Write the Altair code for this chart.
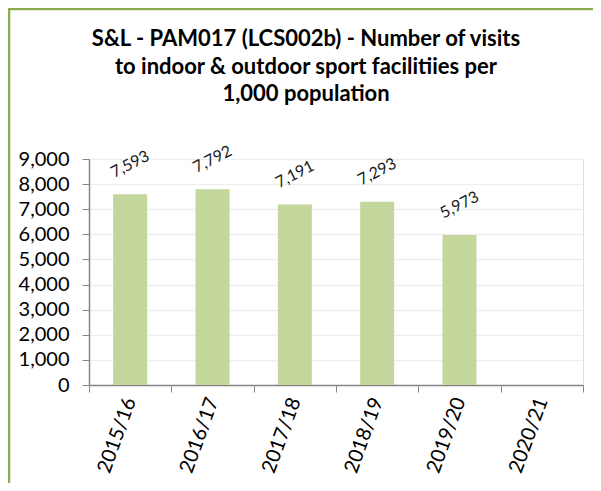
import altair as alt
import pandas as pd

years = ["2015/16", "2016/17", "2017/18", "2018/19", "2019/20", "2020/21"]
visits = [7593, 7792, 7191, 7293, 5973, None]
y_ticks = [0, 1000, 2000, 3000, 4000, 5000, 6000, 7000, 8000, 9000]
title_lines = [
    "S&L - PAM017 (LCS002b) - Number of visits",
    "to indoor & outdoor sport facilitiies per",
    "1,000 population",
]

df = pd.DataFrame({"year": years, "visits": visits})

FONT = "Lato"
W, H = 494, 226
PAD_L, PAD_T, PAD_R, PAD_B = 81, 151, 10, 98

x_enc = alt.X(
    "year:N",
    sort=years,
    scale=alt.Scale(domain=years, paddingInner=0, paddingOuter=0),
    axis=alt.Axis(
        title=None,
        labelAngle=-70,
        labelFontSize=20,
        labelColor="#000000",
        labelFont=FONT,
        tickBand="extent",
        tickSize=7,
        tickColor="#868686",
        domainColor="#868686",
        domainWidth=1.5,
        grid=False,
        labelPadding=6,
    ),
)

y_enc = alt.Y(
    "visits:Q",
    scale=alt.Scale(domain=[0, 9000], nice=False, zero=True),
    axis=alt.Axis(
        title=None,
        values=y_ticks,
        format=",d",
        labelFontSize=20,
        labelFont=FONT,
        labelColor="#000000",
        tickSize=7,
        tickColor="#868686",
        domainColor="#868686",
        domainWidth=1.5,
        grid=True,
        gridColor="#eeeeee",
        gridWidth=1.5,
        labelPadding=13,
    ),
)

base = alt.Chart(df).encode(x=x_enc, y=y_enc)

bars = base.mark_bar(width=34, color="#C3D69B")

labels = (
    base.transform_filter("datum.visits != null")
    .mark_text(angle=333, fontSize=16, font=FONT, color="#1a1a1a", yOffset=-30, align="center", baseline="middle")
    .encode(text=alt.Text("visits:Q", format=","))
)

one_row = alt.Data(values=[{"k": 1}])
title_mark = alt.Chart(one_row).mark_text(
    text=title_lines,
    font=FONT,
    fontSize=22,
    fontWeight="bold",
    color="#000000",
    align="center",
    baseline="alphabetic",
    lineHeight=27.5,
).encode(x=alt.value(306 - 8 - PAD_L), y=alt.value(46 - 8 - PAD_T))

top_border = alt.Chart(one_row).mark_rule(color="#8AAD4F", strokeWidth=2.5).encode(
    x=alt.value(-PAD_L), x2=alt.value(W + PAD_R), y=alt.value(-PAD_T + 1)
)
left_border = alt.Chart(one_row).mark_rule(color="#8AAD4F", strokeWidth=2.5).encode(
    x=alt.value(-PAD_L + 1), y=alt.value(-PAD_T), y2=alt.value(H + PAD_B)
)

chart = (
    alt.layer(bars, labels, title_mark, top_border, left_border)
    .properties(
        width=W,
        height=H,
        autosize=alt.AutoSizeParams(type="none"),
        padding={"left": PAD_L, "top": PAD_T, "right": PAD_R, "bottom": PAD_B},
    )
    .configure_view(stroke=None)
    .configure(background="white")
)

chart.save("out.html", embed_options={"renderer": "svg", "actions": False})
